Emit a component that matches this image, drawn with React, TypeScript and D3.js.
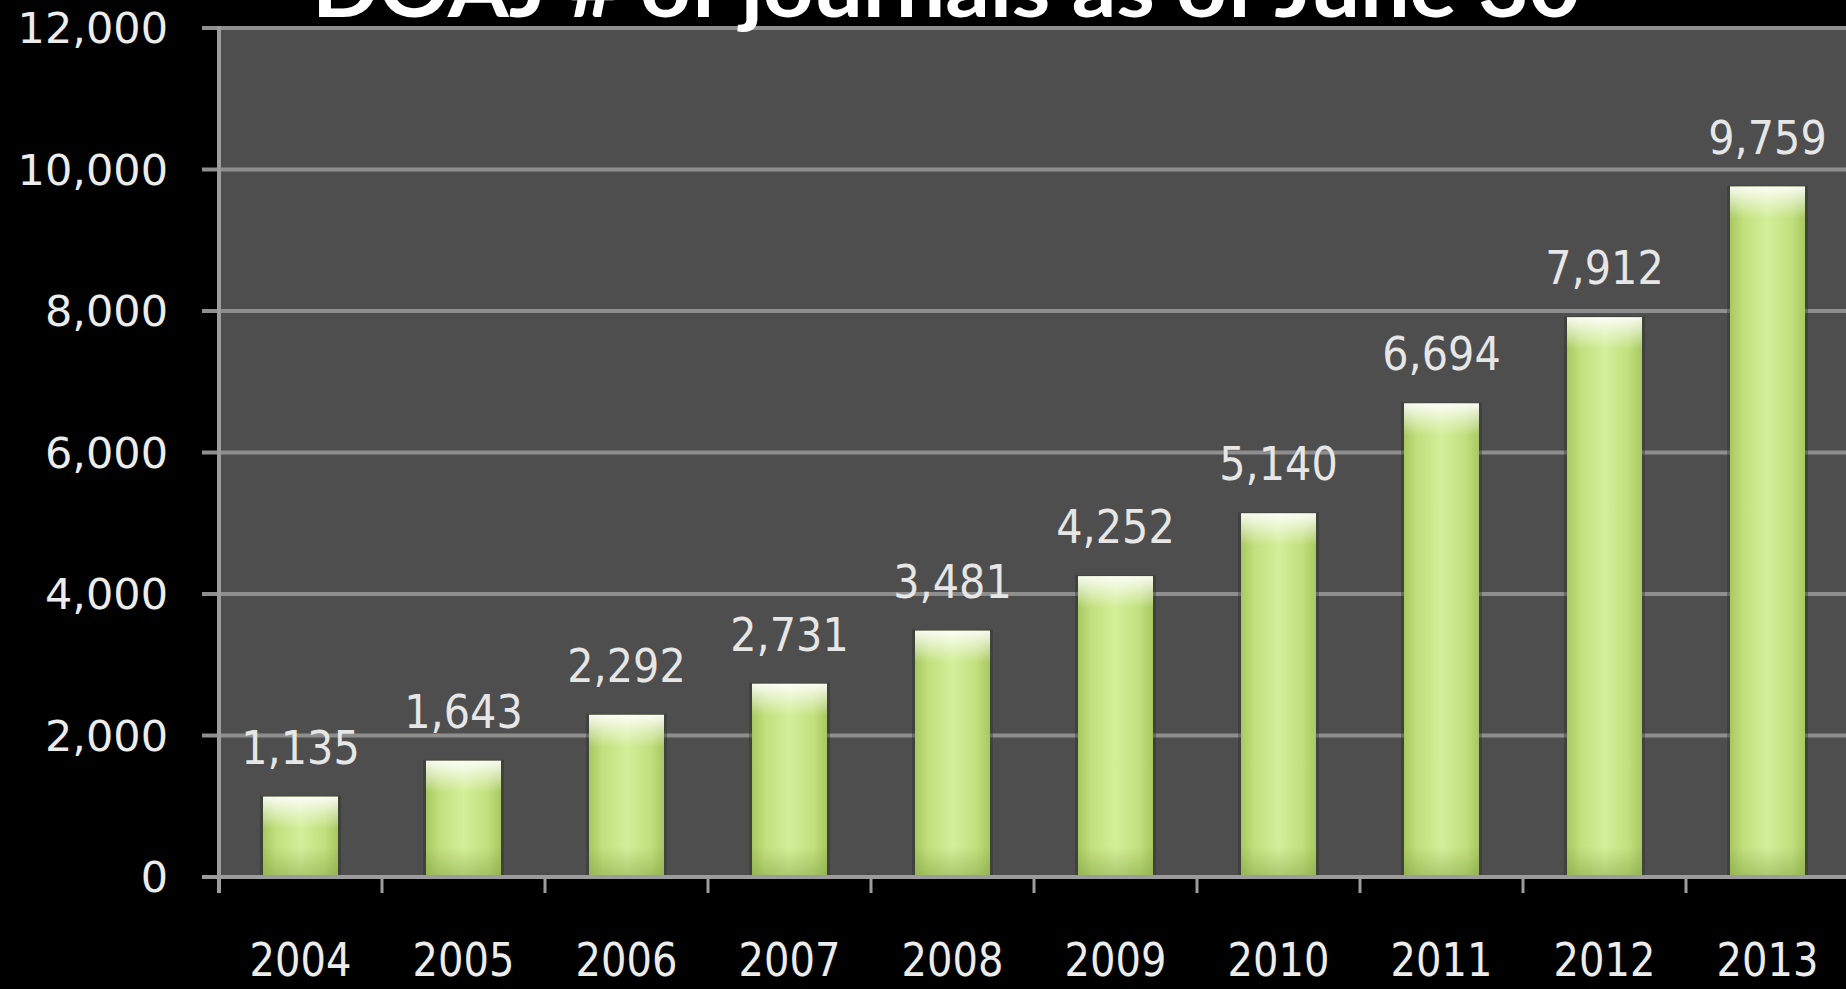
import React from 'react';
import * as d3 from 'd3';

const years = ['2004', '2005', '2006', '2007', '2008', '2009', '2010', '2011', '2012', '2013'];
const journals = [1135, 1643, 2292, 2731, 3481, 4252, 5140, 6694, 7912, 9759];
const yTicks = [0, 2000, 4000, 6000, 8000, 10000, 12000];
const title = 'DOAJ # of journals as of June 30';

const W = 1846;
const H = 989;
const margin = { left: 219, right: -3, top: 28, bottom: 112 };

const fmt = d3.format(',');

export default function App() {
  const x = d3.scaleBand<string>()
    .domain(years)
    .range([margin.left, W - margin.right])
    .paddingInner(0.54)
    .paddingOuter(0.27);
  const y = d3.scaleLinear().domain([0, 12000]).range([H - margin.bottom, margin.top]);
  const step = x.step();
  const bw = x.bandwidth();
  const y0 = y(0);

  // tick positions on the category axis sit at the band edges
  const xEdges = years.map(d => (x(d) as number) - (step * 0.54) / 2).concat([W - margin.right]);

  return (
    <svg width={W} height={H} style={{ position: 'absolute', left: 0, top: 0, background: '#000' }}>
      <defs>
        <linearGradient id="barH" x1="0" x2="1" y1="0" y2="0">
          <stop offset="0%" stopColor="#a8c862" />
          <stop offset="18%" stopColor="#c2e07e" />
          <stop offset="50%" stopColor="#d3ef9a" />
          <stop offset="82%" stopColor="#c2e07e" />
          <stop offset="100%" stopColor="#a8c862" />
        </linearGradient>
        <linearGradient id="barTop" x1="0" x2="0" y1="0" y2="1">
          <stop offset="0%" stopColor="#ffffff" stopOpacity={0.9} />
          <stop offset="100%" stopColor="#ffffff" stopOpacity={0} />
        </linearGradient>
        <linearGradient id="barBottom" x1="0" x2="0" y1="0" y2="1">
          <stop offset="0%" stopColor="#7a9a3c" stopOpacity={0} />
          <stop offset="100%" stopColor="#7a9a3c" stopOpacity={0.45} />
        </linearGradient>
      </defs>
      <rect width={W} height={H} fill="#000" />
      <rect x={margin.left} y={y(12000)} width={W - margin.left} height={y0 - y(12000)} fill="#4e4e4e" />

      {/* gridlines */}
      {yTicks.filter(t => t > 0).map(t => (
        <line key={t} x1={margin.left - 17} x2={W} y1={y(t)} y2={y(t)} stroke="#8e8e8e" strokeWidth={4} />
      ))}

      {/* bars */}
      {years.map((d, i) => {
        const bx = x(d) as number;
        const by = y(journals[i]);
        const bh = y0 - by;
        return (
          <g key={d}>
            <rect x={bx - 3} y={by - 1} width={bw + 6} height={bh + 1} fill="#2e3326" opacity={0.4} />
            <rect x={bx} y={by} width={bw} height={bh} fill="url(#barH)" />
            <rect x={bx} y={by} width={bw} height={Math.min(32, bh)} fill="url(#barTop)" />
            <rect x={bx} y={y0 - 30} width={bw} height={30} fill="url(#barBottom)" />
          </g>
        );
      })}

      {/* axes */}
      <line x1={margin.left} x2={margin.left} y1={y(12000) - 2} y2={y0 + 16} stroke="#9c9c9c" strokeWidth={4} />
      <line x1={margin.left - 17} x2={W} y1={y0} y2={y0} stroke="#9c9c9c" strokeWidth={4} />
      {xEdges.map((ex, i) => (
        <line key={i} x1={ex} x2={ex} y1={y0} y2={y0 + 16} stroke="#9c9c9c" strokeWidth={3} />
      ))}

      {/* y tick labels */}
      {yTicks.map(t => (
        <text key={t} x={168} y={y(t)} dy="0.36em" textAnchor="end" fill="#ececec"
          fontFamily="'DejaVu Sans', Verdana, sans-serif" fontSize={43}>
          {fmt(t)}
        </text>
      ))}

      {/* category labels */}
      {years.map(d => (
        <g key={d} transform={`translate(${(x(d) as number) + bw / 2},976) scale(0.87,1)`}>
          <text textAnchor="middle" fill="#ececec" fontFamily="'DejaVu Sans', Verdana, sans-serif" fontSize={46}>
            {d}
          </text>
        </g>
      ))}

      {/* value labels */}
      {years.map((d, i) => (
        <g key={d} transform={`translate(${(x(d) as number) + bw / 2},${y(journals[i]) - 33}) scale(0.9,1)`}>
          <text textAnchor="middle" fill="#e6e6e6" fontFamily="'DejaVu Sans', Verdana, sans-serif" fontSize={46}>
            {fmt(journals[i])}
          </text>
        </g>
      ))}

      {/* title, cut by the top edge */}
      <text x={312} y={17} textLength={1268} lengthAdjust="spacingAndGlyphs" fill="#ffffff"
        fontFamily="Lato, 'Open Sans', sans-serif" fontWeight="bold" fontSize={80}>
        {title}
      </text>
    </svg>
  );
}
